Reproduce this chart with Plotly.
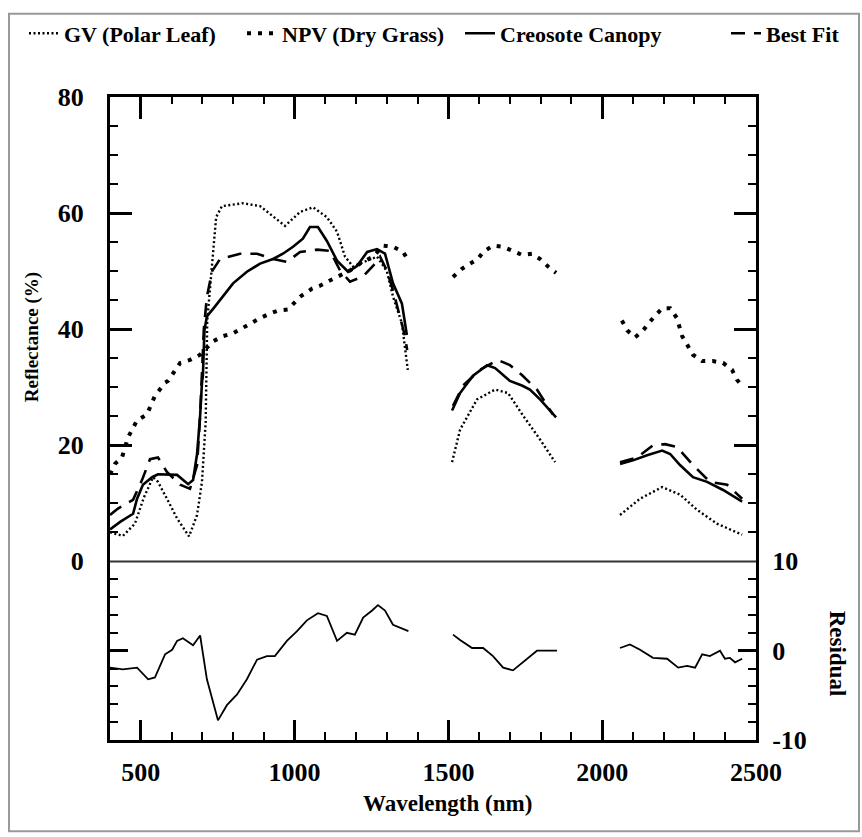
import plotly.graph_objects as go

# ---------------- data ----------------
# GV (Polar Leaf)
gv_wl_1 = [400, 442, 481, 510, 540, 556, 585, 618, 657, 683, 699, 706, 711, 716, 730, 745, 764, 832, 888, 930,
           969, 1018, 1060, 1105, 1138, 1164, 1190, 1236, 1268, 1300, 1320, 1349, 1360, 1368]
gv_rf_1 = [5.0, 4.4, 6.5, 11.0, 14.5, 13.7, 10.8, 7.4, 4.3, 8.0, 13.7, 19.3, 24.0, 41.4, 50.0, 59.3, 61.2, 61.7, 61.2, 59.5,
           57.8, 60.2, 61.0, 59.3, 56.8, 52.5, 50.8, 51.8, 52.5, 50.0, 45.6, 41.0, 36.4, 33.0]
gv_wl_2 = [1512, 1538, 1593, 1652, 1694, 1743, 1798, 1847]
gv_rf_2 = [17.1, 22.7, 27.9, 29.6, 29.0, 25.1, 21.0, 17.1]
gv_wl_3 = [2058, 2123, 2195, 2253, 2308, 2373, 2455]
gv_rf_3 = [8.0, 10.8, 12.8, 11.5, 8.9, 6.5, 4.6]

# NPV (Dry Grass)
npv_wl_1 = [400, 416, 439, 459, 488, 520, 546, 579, 589, 628, 660, 693, 735, 767, 800, 855, 888, 920, 946, 979,
            1018, 1057, 1083, 1115, 1148, 1180, 1213, 1255, 1288, 1320, 1353, 1370]
npv_rf_1 = [15.0, 16.8, 17.9, 21.4, 24.3, 25.3, 28.5, 30.8, 31.1, 34.2, 34.7, 35.6, 37.9, 38.8, 39.3, 41.0, 41.9, 42.7, 43.2, 43.4,
            45.6, 47.0, 47.5, 48.4, 49.2, 50.1, 51.3, 52.5, 54.4, 54.2, 53.3, 51.8]
npv_wl_2 = [1515, 1544, 1570, 1596, 1613, 1645, 1678, 1707, 1739, 1772, 1798, 1824, 1850]
npv_rf_2 = [49.0, 50.4, 51.3, 52.1, 53.3, 54.4, 54.2, 53.5, 52.8, 53.0, 52.1, 50.8, 49.7]
npv_wl_3 = [2064, 2081, 2107, 2133, 2165, 2195, 2221, 2243, 2260, 2279, 2295, 2325, 2360, 2393, 2422, 2438, 2460]
npv_rf_3 = [41.5, 39.8, 38.6, 39.8, 41.9, 43.6, 43.6, 41.9, 38.8, 37.1, 35.6, 34.5, 34.5, 34.2, 33.0, 31.3, 29.9]

# Creosote Canopy
cr_wl_1 = [400, 433, 475, 488, 507, 537, 556, 585, 618, 654, 670, 683, 693, 699, 702, 707, 715, 741, 767, 800,
           845, 888, 930, 962, 995, 1027, 1050, 1076, 1105, 1138, 1174, 1203, 1236, 1268, 1294, 1320, 1349, 1365]
cr_rf_1 = [5.5, 6.8, 8.2, 10.8, 13.2, 14.5, 15.0, 15.0, 14.9, 13.3, 14.0, 18.5, 25.1, 30.8, 32.0, 39.8, 42.2, 43.9, 45.6, 47.9,
           49.9, 51.3, 52.1, 53.0, 54.2, 55.6, 57.6, 57.6, 55.2, 51.8, 49.9, 50.9, 53.3, 53.8, 53.0, 47.9, 44.4, 39.0]
cr_wl_2 = [1512, 1538, 1580, 1626, 1652, 1700, 1739, 1765, 1798, 1850]
cr_rf_2 = [26.0, 29.0, 32.0, 33.8, 33.3, 31.1, 30.3, 29.6, 27.9, 24.8]
cr_wl_3 = [2058, 2100, 2146, 2195, 2221, 2253, 2295, 2341, 2393, 2455]
cr_rf_3 = [16.8, 17.4, 18.3, 19.1, 18.5, 16.6, 14.5, 13.7, 12.3, 10.3]

# Best Fit
bf_wl_1 = [400, 426, 475, 504, 530, 556, 585, 628, 660, 683, 693, 705, 715, 732, 758, 823, 878, 930, 975, 1018,
           1073, 1115, 1148, 1180, 1223, 1255, 1278, 1300, 1320, 1343, 1359, 1366]
bf_rf_1 = [8.0, 9.1, 10.6, 14.0, 17.6, 17.9, 15.4, 13.2, 12.5, 16.6, 25.1, 40.0, 45.6, 50.0, 52.1, 53.0, 53.0, 52.1, 51.6, 53.3,
           53.7, 53.5, 50.1, 48.2, 49.1, 50.9, 52.5, 50.1, 46.7, 42.2, 38.8, 36.4]
bf_wl_2 = [1515, 1548, 1603, 1661, 1700, 1739, 1788, 1840]
bf_rf_2 = [26.8, 30.3, 33.0, 34.7, 33.8, 32.1, 29.6, 25.3]
bf_wl_3 = [2058, 2113, 2165, 2204, 2243, 2295, 2350, 2406, 2455]
bf_rf_3 = [17.1, 17.9, 20.0, 20.2, 19.7, 16.6, 13.7, 13.2, 10.8]

# Residual
res_wl_1 = [400, 442, 488, 524, 546, 579, 602, 618, 637, 670, 693, 715, 751, 780, 813, 845, 878, 910, 936, 975,
            1008, 1040, 1076, 1105, 1138, 1170, 1196, 1223, 1252, 1271, 1294, 1320, 1370]
res_v_1 = [-1.9, -2.1, -1.9, -3.2, -3.0, -0.4, 0.1, 1.1, 1.4, 0.6, 1.7, -3.2, -7.8, -6.1, -4.9, -3.2, -1.0, -0.6, -0.6, 1.1,
           2.2, 3.4, 4.2, 3.9, 1.1, 2.0, 1.8, 3.7, 4.5, 5.1, 4.5, 2.9, 2.2]
res_wl_2 = [1515, 1538, 1577, 1613, 1645, 1678, 1710, 1743, 1788, 1853]
res_v_2 = [1.8, 1.2, 0.3, 0.3, -0.6, -1.9, -2.2, -1.3, 0.0, 0.0]
res_wl_3 = [2058, 2090, 2123, 2165, 2211, 2247, 2276, 2302, 2325, 2350, 2383, 2399, 2415, 2432, 2455]
res_v_3 = [0.3, 0.7, 0.1, -0.8, -0.9, -1.9, -1.7, -1.9, -0.4, -0.6, 0.0, -0.9, -0.8, -1.3, -0.9]

series_names = ["GV (Polar Leaf)", "NPV (Dry Grass)", "Creosote Canopy", "Best Fit"]
x_tickvals = [500, 1000, 1500, 2000, 2500]
y_tickvals = [0, 20, 40, 60, 80]
res_tickvals = [-10, 0, 10]


def join(*segs):
    out = []
    for i, s in enumerate(segs):
        if i:
            out.append(None)
        out.extend(s)
    return out


FONT = "Liberation Serif"
BLACK = "black"

# plot-area geometry in pixels (used only to place decorations / text)
L, R, T, B = 110, 756, 92, 740
PW, PH = R - L, B - T


def px(xp):
    return (xp - L) / PW


def py(yp):
    return (B - yp) / PH


fig = go.Figure()

styles = [
    dict(dash="2px,2.5px", width=2.4),
    dict(dash="4px,7px", width=4),
    dict(dash="solid", width=2.6),
    dict(dash="14px,9px", width=2.6),
]
data_pairs = [
    (join(gv_wl_1, gv_wl_2, gv_wl_3), join(gv_rf_1, gv_rf_2, gv_rf_3)),
    (join(npv_wl_1, npv_wl_2, npv_wl_3), join(npv_rf_1, npv_rf_2, npv_rf_3)),
    (join(cr_wl_1, cr_wl_2, cr_wl_3), join(cr_rf_1, cr_rf_2, cr_rf_3)),
    (join(bf_wl_1, bf_wl_2, bf_wl_3), join(bf_rf_1, bf_rf_2, bf_rf_3)),
]
legend_ids = ["legend", "legend2", "legend3", "legend4"]
legend_left_px = [24, 242, 460, 726]

for name, (xs, ys), st, lg in zip(series_names, data_pairs, styles, legend_ids):
    fig.add_trace(go.Scatter(
        x=xs, y=ys, name="<b>" + name + "</b>", mode="lines", connectgaps=False,
        line=dict(color=BLACK, width=st["width"], dash=st["dash"]),
        xaxis="x2", yaxis="y", legend=lg,
    ))

fig.add_trace(go.Scatter(
    x=join(res_wl_1, res_wl_2, res_wl_3), y=join(res_v_1, res_v_2, res_v_3),
    mode="lines", connectgaps=False, showlegend=False,
    line=dict(color=BLACK, width=1.8), xaxis="x", yaxis="y2",
))

split = (B - 560) / PH
tickfont = dict(family=FONT, size=26, color=BLACK, weight="bold")

common = dict(showgrid=False, zeroline=False, showline=True, linecolor=BLACK, linewidth=3,
              ticks="inside", tickcolor=BLACK)

legend_font = dict(family=FONT, size=22, color=BLACK)
legends = {}
for lg, lx in zip(legend_ids, legend_left_px):
    legends[lg] = dict(orientation="h", x=px(lx), y=py(28), xanchor="left", yanchor="middle",
                       font=legend_font, bgcolor="rgba(0,0,0,0)", itemwidth=30)

fig.update_layout(
    width=862, height=837,
    margin=dict(l=L, r=862 - R, t=T, b=837 - B),
    paper_bgcolor="white", plot_bgcolor="white",
    font=dict(family=FONT, color=BLACK),
    showlegend=True,
    xaxis=dict(**common, domain=[0, 1], anchor="y2", range=[400, 2500],
               tickvals=x_tickvals, ticklen=20, tickwidth=2.5, tickfont=tickfont,
               ticklabelstandoff=7,
               minor=dict(dtick=100, tick0=0, ticks="inside", ticklen=8, tickwidth=2, tickcolor=BLACK)),
    xaxis2=dict(**common, matches="x", anchor="y", side="top", showticklabels=False,
                tickvals=x_tickvals, ticklen=22, tickwidth=2.5,
                minor=dict(dtick=100, tick0=0, ticks="inside", ticklen=7, tickwidth=2, tickcolor=BLACK)),
    yaxis=dict(**common, domain=[split, 1], anchor="x2", range=[0, 80], mirror="ticks",
               tickvals=y_tickvals, ticklen=22, tickwidth=2.5, tickfont=tickfont,
               ticklabelstandoff=18,
               minor=dict(dtick=5, tick0=0, ticks="inside", ticklen=8, tickwidth=2, tickcolor=BLACK)),
    yaxis2=dict(**common, domain=[0, split], anchor="x", side="right", range=[-10, 10], mirror="ticks",
                tickvals=res_tickvals, ticktext=["-10", "0", "10"], ticklen=18, tickwidth=2.5,
                tickfont=tickfont, ticklabelstandoff=8,
                minor=dict(dtick=2, tick0=0, ticks="inside", ticklen=8, tickwidth=2, tickcolor=BLACK)),
    shapes=[
        dict(type="line", xref="paper", yref="paper", x0=0, x1=1, y0=split, y1=split,
             line=dict(color="#333", width=2)),
        dict(type="rect", xref="paper", yref="paper",
             x0=px(9), x1=px(859), y0=py(832), y1=py(8),
             line=dict(color="#999", width=2)),
    ],
    annotations=[
        dict(text="<b>Reflectance (%)</b>", xref="paper", yref="paper", x=px(32), y=py(334),
             textangle=-90, showarrow=False, xanchor="center", yanchor="middle",
             font=dict(family=FONT, size=19, color=BLACK)),
        dict(text="<b>Residual</b>", xref="paper", yref="paper", x=px(837), y=py(653),
             textangle=90, showarrow=False, xanchor="center", yanchor="middle",
             font=dict(family=FONT, size=23, color=BLACK)),
        dict(text="<b>Wavelength (nm)</b>", xref="paper", yref="paper", x=px(447), y=py(804),
             showarrow=False, xanchor="center", yanchor="middle",
             font=dict(family=FONT, size=23, color=BLACK)),
    ],
    **legends,
)

fig.write_html("out.html")
